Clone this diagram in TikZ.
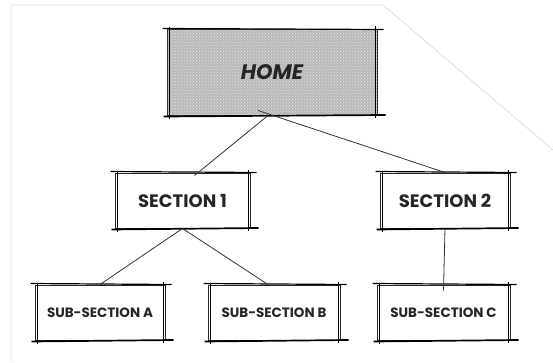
\documentclass[tikz,border=0pt]{standalone}
\usepackage{fontspec}
\setmainfont{Poppins}
\usetikzlibrary{patterns}
\newcommand{\sketchbox}[1]{%
  \draw[line width=1.2pt] ([xshift=-4pt,yshift=1pt]#1.north west) -- ([xshift=6pt,yshift=0pt]#1.north east);
  \draw[line width=1.7pt] ([xshift=-3pt,yshift=-1pt]#1.south west) -- ([xshift=8pt,yshift=0.5pt]#1.south east);
  \draw[line width=0.8pt] ([xshift=3pt,yshift=2pt]#1.north west) -- ([xshift=3pt,yshift=-3pt]#1.south west);
  \draw[line width=0.8pt] ([xshift=-2pt,yshift=3pt]#1.north east) -- ([xshift=-2pt,yshift=-2pt]#1.south east);
}
\tikzset{
  box/.style={draw=black!85, line width=1pt, inner sep=0pt, fill=white},
  homebox/.style={box, fill=gray!55, minimum width=210pt, minimum height=85pt},
  hometext/.style={font=\fontsize{21}{24}\selectfont\bfseries\itshape, text=black!85},
  secbox/.style={box, minimum width=133pt, minimum height=55pt, font=\fontsize{18}{20}\selectfont\bfseries, text=black!85},
  subbox/.style={box, minimum width=131pt, minimum height=55pt, font=\fontsize{13.5}{15}\selectfont\bfseries, text=black!85},
  link/.style={draw=black!80, line width=0.8pt},
  pageedge/.style={draw=gray!25, line width=0.8pt}
}
\begin{document}
\begin{tikzpicture}[x=1pt,y=1pt]
\useasboundingbox (0,0) rectangle (553,362);
\fill[white] (0,0) rectangle (553,362);
\draw[pageedge] (11,0) -- (11,357) -- (383,357) -- (553,212);
% nodes
\node[homebox] (home) at (272,289.5) {};
\fill[pattern=crosshatch dots, pattern color=white!80!gray] (home.south west) rectangle (home.north east);
\node[hometext] (hometitle) at (home.center) {HOME};
\node[secbox, minimum width=135pt] (s1) at (182.5,161.5) {SECTION 1};
\node[secbox, minimum width=130pt] (s2) at (445,161.5) {SECTION 2};
\node[subbox, minimum width=130pt] (a) at (100,49.5) {SUB-SECTION A};
\node[subbox, minimum width=132pt] (b) at (274,49.5) {SUB-SECTION B};
\node[subbox, minimum width=133pt] (c) at (443.5,49.5) {SUB-SECTION C};
\sketchbox{home}
\sketchbox{s1}
\sketchbox{s2}
\sketchbox{a}
\sketchbox{b}
\sketchbox{c}
% connectors
\draw[link] ([xshift=-4pt]home.south) -- ([xshift=12pt,yshift=-3pt]s1.north);
\draw[link] ([xshift=-14pt,yshift=5pt]home.south) -- ([xshift=0pt]s2.north);
\draw[link] (s1.south) -- (a.north);
\draw[link] (s1.south) -- ([xshift=-6pt]b.north);
\draw[link] (s2.south) -- ([yshift=-6pt]c.north);
\end{tikzpicture}
\end{document}
